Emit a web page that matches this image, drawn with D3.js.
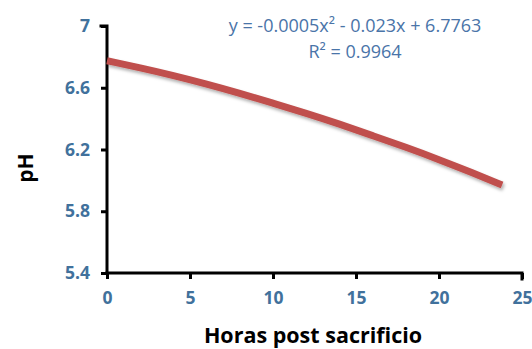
<!DOCTYPE html>
<html>
<head>
<meta charset="utf-8">
<script src="https://cdn.jsdelivr.net/npm/d3@7"></script>
<style>
  body { margin: 0; background: #fff; }
  svg text { font-family: "Open Sans", "Liberation Sans", sans-serif; }
</style>
</head>
<body>
<div id="chart"></div>
<script>
// values
const hours = [0, 2, 4, 6, 8, 10, 12, 14, 16, 18, 20, 22, 23.8];
const ph = [6.775, 6.73, 6.68, 6.625, 6.565, 6.50, 6.435, 6.365, 6.29, 6.215, 6.135, 6.05, 5.97];
const xTicks = [0, 5, 10, 15, 20, 25];
const yTicks = [5.4, 5.8, 6.2, 6.6, 7];
const equation = ["y = -0.0005x² - 0.023x + 6.7763", "R² = 0.9964"];

const W = 532, H = 349;
const margin = {top: 26, right: 10, bottom: 76, left: 107};
const width = 522 - margin.left;
const height = 273 - margin.top;

const svg = d3.select("#chart").append("svg")
  .attr("width", W)
  .attr("height", H);

const defs = svg.append("defs");
const shadow = defs.append("filter").attr("id", "shadow")
  .attr("x", "-10%").attr("y", "-50%").attr("width", "120%").attr("height", "200%");
shadow.append("feDropShadow")
  .attr("dx", 1.5).attr("dy", 2.5).attr("stdDeviation", 1.6)
  .attr("flood-color", "#000").attr("flood-opacity", 0.3);

const g = svg.append("g")
  .attr("transform", "translate(" + margin.left + "," + margin.top + ")");

const x = d3.scaleLinear().domain([0, 25]).range([0, width]);
const y = d3.scaleLinear().domain([5.4, 7]).range([height, 0]);

const xAxis = d3.axisBottom(x).tickValues(xTicks).tickSize(6).tickPadding(13)
  .tickFormat(d3.format("d"));
const yAxis = d3.axisLeft(y).tickValues(yTicks).tickSize(6).tickPadding(11)
  .tickFormat(d => String(d));

const gx = g.append("g")
  .attr("transform", "translate(0," + height + ")")
  .call(xAxis);
const gy = g.append("g").call(yAxis);

[gx, gy].forEach(a => {
  a.select(".domain").attr("stroke", "#000").attr("stroke-width", 3).attr("stroke-linecap", "square");
  a.selectAll(".tick line").attr("stroke", "#000").attr("stroke-width", 3);
  a.selectAll(".tick text")
    .attr("fill", "#41719C")
    .attr("font-size", 17.5)
    .attr("font-weight", "bold");
});
gx.select(".domain").attr("d", "M0,0H" + width + "V6");
gy.select(".domain").attr("d", "M-6,0H0V" + height);

const line = d3.line()
  .curve(d3.curveBasis)
  .x((d, i) => x(hours[i]))
  .y(d => y(d));

g.append("path")
  .datum(ph)
  .attr("d", line)
  .attr("fill", "none")
  .attr("stroke", "#C0504D")
  .attr("stroke-width", 7)
  .attr("filter", "url(#shadow)");

g.append("text")
  .attr("x", 355 - margin.left)
  .attr("y", 0)
  .attr("text-anchor", "middle")
  .attr("fill", "#4A74A8")
  .attr("font-size", 18)
  .selectAll("tspan")
  .data(equation)
  .join("tspan")
    .attr("x", 355 - margin.left)
    .attr("dy", (d, i) => i === 0 ? 6 : 26)
    .text(d => d);

svg.append("text")
  .attr("x", 313)
  .attr("y", 343)
  .attr("text-anchor", "middle")
  .attr("font-size", 21.5)
  .attr("font-weight", "bold")
  .attr("fill", "#000")
  .text("Horas post sacrificio");

svg.append("text")
  .attr("transform", "translate(33,168) rotate(-90)")
  .attr("text-anchor", "middle")
  .attr("font-size", 21)
  .attr("font-weight", "bold")
  .attr("fill", "#000")
  .text("pH");
</script>
</body>
</html>
